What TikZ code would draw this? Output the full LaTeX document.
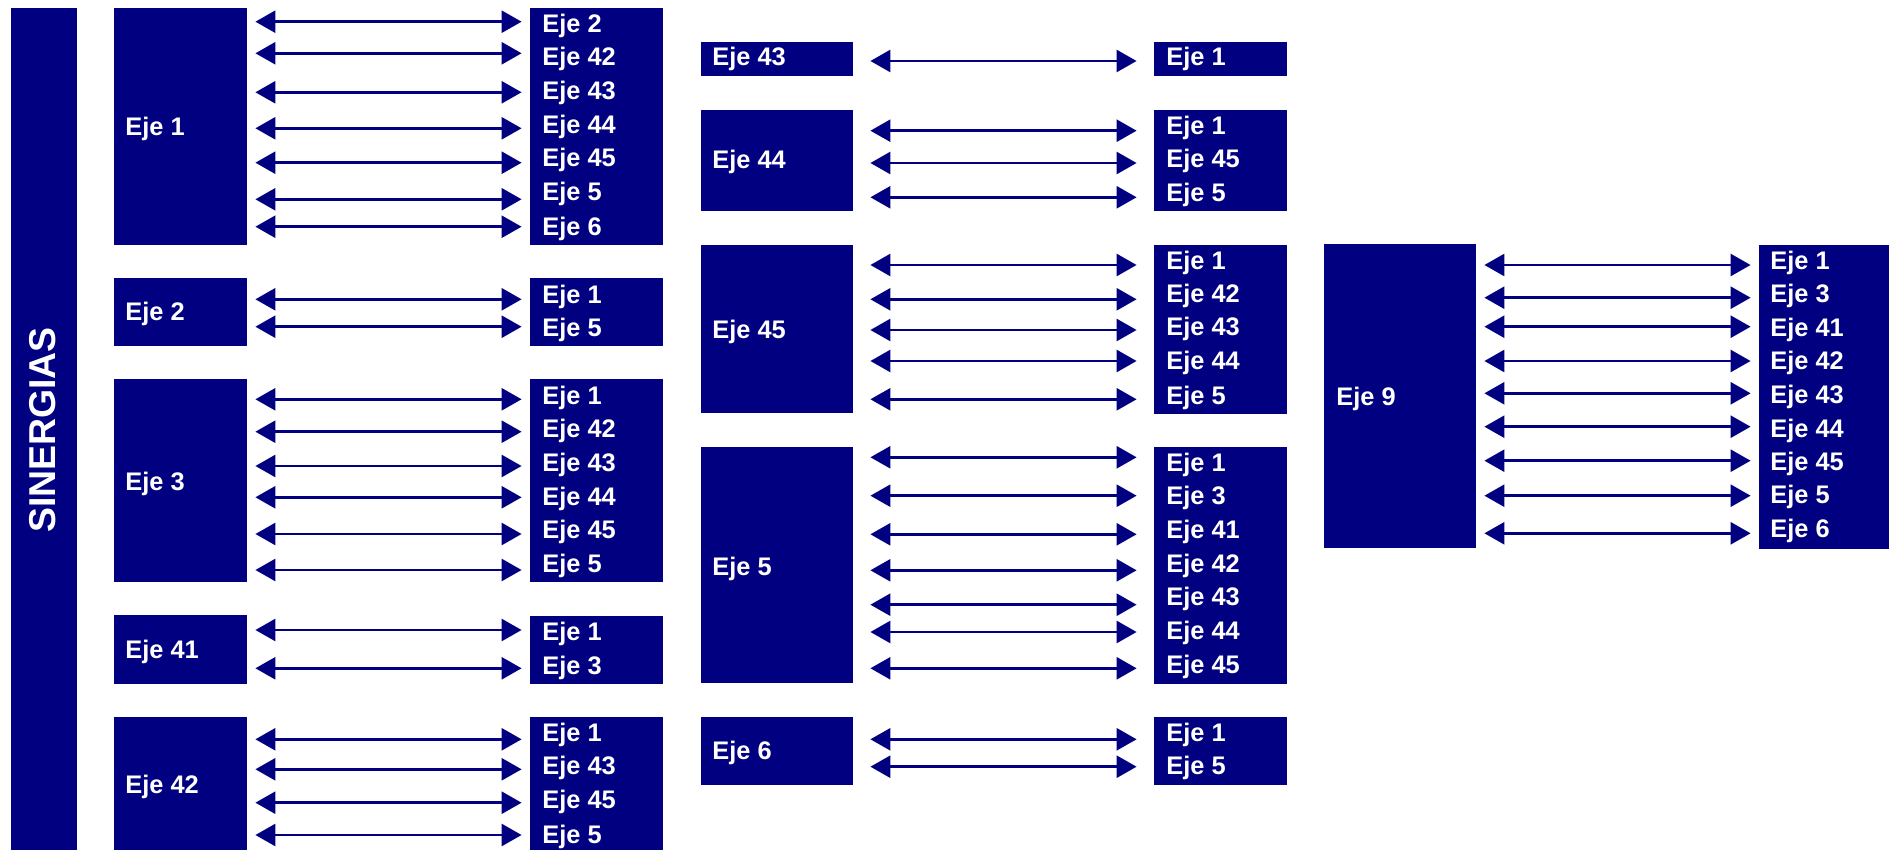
\documentclass[tikz,border=0pt]{standalone}
\usepackage{fontspec}
\setmainfont{Liberation Sans}
\usetikzlibrary{arrows.meta,fit}
\definecolor{navy}{RGB}{0,0,128}
\tikzset{
  blk/.style={fill=navy, draw=none, inner sep=0pt},
  lbl/.style={text=white, font=\bfseries\fontsize{12.7}{14}\selectfont, anchor=base west, inner sep=0pt},
  syn/.style={navy, line width=1.3pt, {Triangle[length=10pt,width=11pt]}-{Triangle[length=10pt,width=11pt]}},
}
% #1 name, #2 label, #3 ytop, #4 ybot, #5 right ytop, #6 right ybot, #7 label y, #8 list
\newcommand\grp[8]{%
  \node[blk, fit={(\lxa,#3)(\lxb,#4)}] (#1L) {};
  \node[blk, fit={(\rxa,#5)(\rxb,#6)}] (#1R) {};
  \node[lbl] (#1lab) at (\ltx,#7+8) {#2};
  \foreach \ay/\ty/\tx [count=\i] in {#8}{%
    \coordinate (#1y\i) at (0,\ay);
    \draw[syn] ([xshift=\gap]#1L.east |- #1y\i) -- ([xshift=-\gap]#1R.west |- #1y\i);
    \node[lbl] (#1t\i) at (\rtx,\ty+8) {\tx};
  }%
}
\begin{document}
\begin{tikzpicture}[x=0.5pt,y=-0.5pt]
\useasboundingbox (0,0) rectangle (1889,850);
\node[blk, fit={(11,8)(77,850)}] (bar) {};
\node[rotate=90, text=white, inner sep=0pt, font=\bfseries\fontsize{18.7}{20}\selectfont] (sin) at (43,430) {SINERGIAS};

% column 1
\def\lxa{114}\def\lxb{247}\def\rxa{530}\def\rxb{663}\def\ltx{125}\def\rtx{542}\def\gap{4pt}
\grp{a}{Eje 1}{8}{245}{8}{245}{128}{21.7/25/Eje 2, 53.3/58/Eje 42, 92.3/92/Eje 43, 128.3/126/Eje 44, 162.7/159/Eje 45, 199.3/193/Eje 5, 226.7/227/Eje 6}
\grp{b}{Eje 2}{278}{346}{278}{346}{313}{299.3/295/Eje 1, 326.7/328/Eje 5}
\grp{c}{Eje 3}{379}{582}{379}{582}{482}{399.3/396/Eje 1, 431.7/429/Eje 42, 466/463/Eje 43, 497.3/497/Eje 44, 534/530/Eje 45, 570/564/Eje 5}
\grp{d}{Eje 41}{615}{684}{616}{684}{650}{630/632/Eje 1, 668.3/666/Eje 3}
\grp{e}{Eje 42}{717}{850}{717}{850}{785}{739.3/733/Eje 1, 769.3/766/Eje 43, 802.7/800/Eje 45, 835/835/Eje 5}

% column 2
\def\lxa{701}\def\lxb{853}\def\rxa{1154}\def\rxb{1287}\def\ltx{712}\def\rtx{1166}\def\gap{8.5pt}
\grp{f}{Eje 43}{42}{76}{42}{76}{58}{61/58/Eje 1}
\grp{g}{Eje 44}{110}{211}{110}{211}{161}{130.7/126.7/Eje 1, 163/159.3/Eje 45, 197.3/193.3/Eje 5}
\grp{h}{Eje 45}{245}{413}{245}{414}{330}{265/261.7/Eje 1, 299.3/294.3/Eje 42, 330/327.7/Eje 43, 361/361.7/Eje 44, 399.3/396/Eje 5}
\grp{i}{Eje 5}{447}{683}{447}{684}{567}{457.3/463.3/Eje 1, 495.7/496.7/Eje 3, 534.3/530/Eje 41, 570.3/564.3/Eje 42, 604.7/597.7/Eje 43, 632/631.7/Eje 44, 668.3/665.7/Eje 45}
\grp{j}{Eje 6}{717}{785}{717}{785}{751}{739.3/733.3/Eje 1, 766.7/766.7/Eje 5}

% column 3
\def\lxa{1324}\def\lxb{1476}\def\rxa{1759}\def\rxb{1889}\def\ltx{1336}\def\rtx{1770}\def\gap{4pt}
\grp{k}{Eje 9}{244}{548}{245}{549}{397}{265/261.7/Eje 1, 297.7/294.3/Eje 3, 326.7/328.3/Eje 41, 361/361.7/Eje 42, 393.3/395.7/Eje 43, 426.7/429/Eje 44, 460.7/462.3/Eje 45, 495.7/495.7/Eje 5, 533.3/529/Eje 6}
\end{tikzpicture}
\end{document}
